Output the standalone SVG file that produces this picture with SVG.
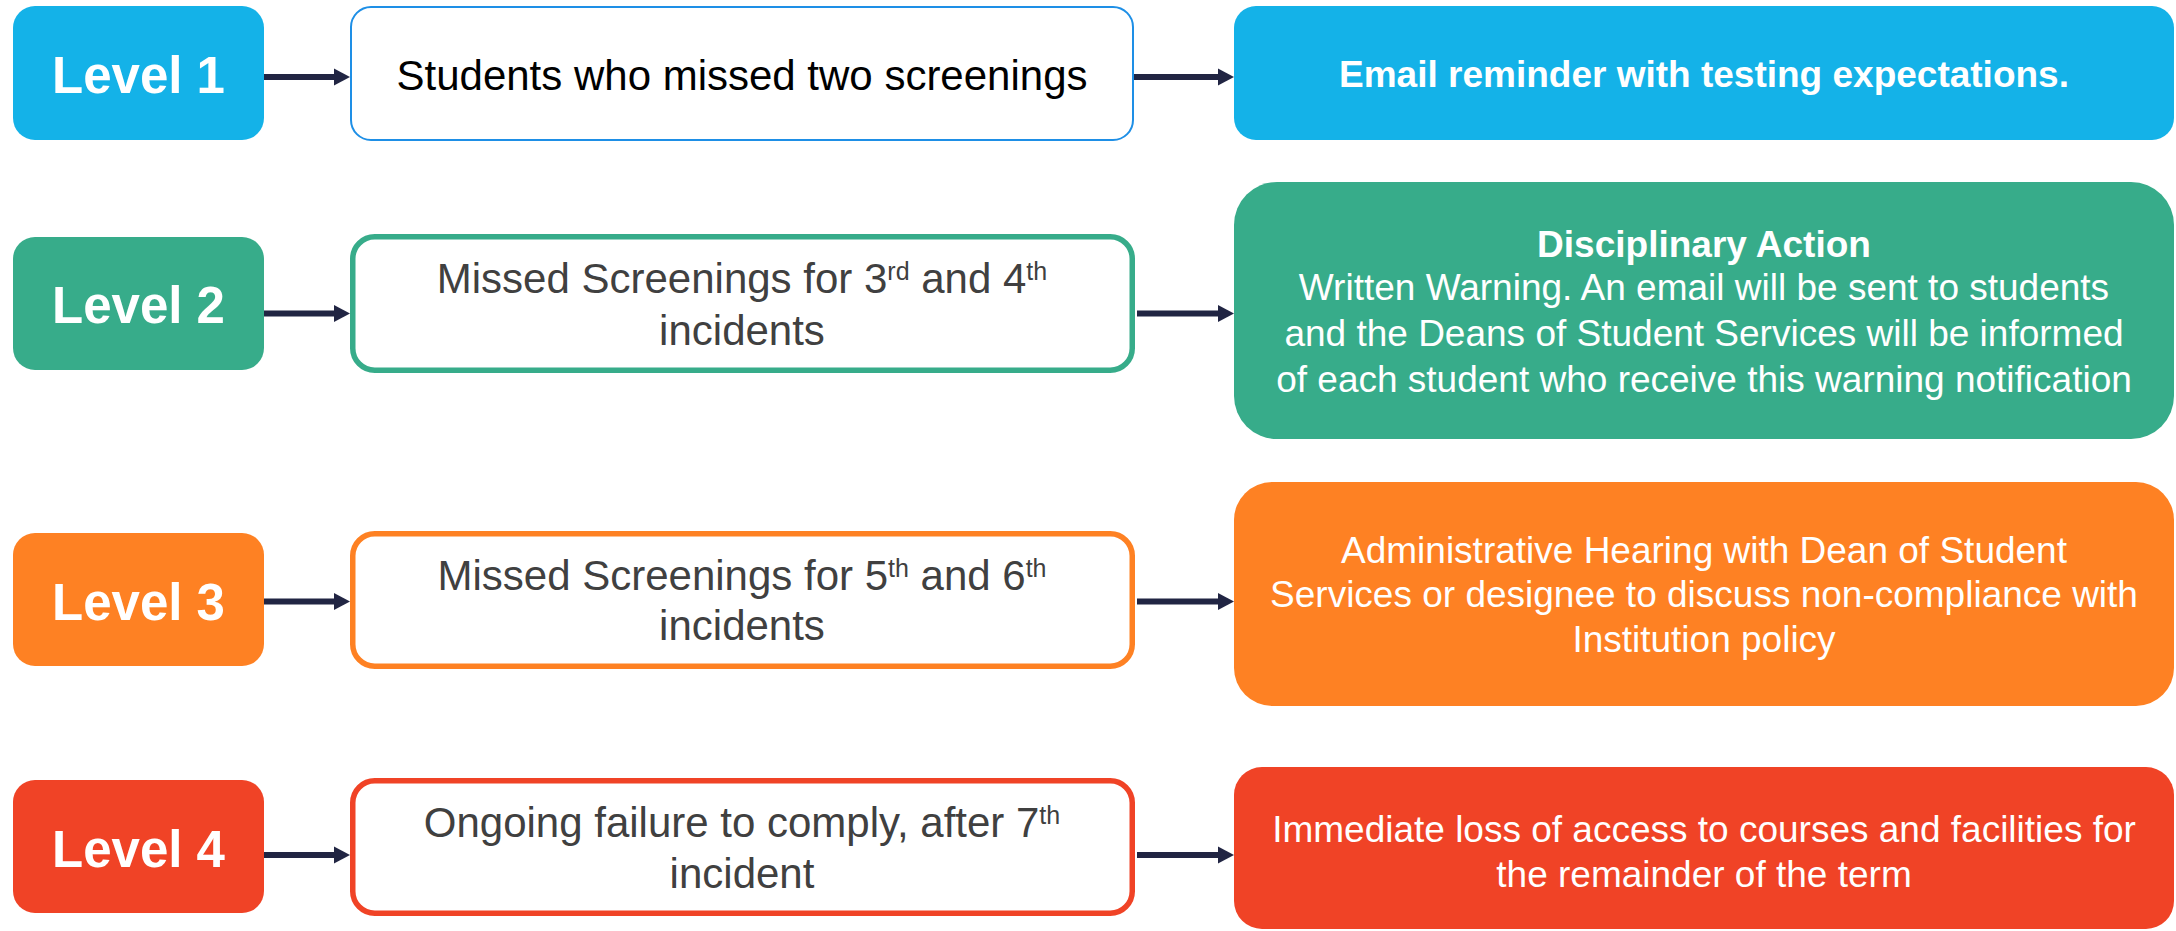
<svg xmlns="http://www.w3.org/2000/svg" width="2176" height="931" viewBox="0 0 2176 931">
  <defs>
    <style>
      text { font-family: "Liberation Sans", Arial, sans-serif; }
      .lvl { font-size: 51px; font-weight: bold; fill: #ffffff; text-anchor: middle; }
      .cond { font-size: 42px; fill: #404040; text-anchor: middle; }
      .act { font-size: 37px; fill: #ffffff; text-anchor: middle; }
      .b { font-weight: bold; }
      .sup { font-size: 25px; }
      .conn { stroke: #212543; stroke-width: 6; fill: none; marker-end: url(#head); }
      .box { fill: #ffffff; }
    </style>
    <marker id="head" markerUnits="userSpaceOnUse" markerWidth="16" markerHeight="17" refX="6" refY="8.5" orient="auto" overflow="visible">
      <path d="M0,0 L16,8.5 L0,17 Z" fill="#212543"/>
    </marker>
  </defs>

  <rect width="2176" height="931" fill="#ffffff"/>

  <!-- Connectors -->
  <g id="connectors">
    <line class="conn" x1="264" y1="77" x2="340" y2="77"/>
    <line class="conn" x1="1134" y1="77" x2="1224" y2="77"/>
    <line class="conn" x1="264" y1="313.5" x2="340" y2="313.5"/>
    <line class="conn" x1="1137" y1="313.5" x2="1224" y2="313.5"/>
    <line class="conn" x1="264" y1="601.5" x2="340" y2="601.5"/>
    <line class="conn" x1="1137" y1="601.5" x2="1224" y2="601.5"/>
    <line class="conn" x1="264" y1="855" x2="340" y2="855"/>
    <line class="conn" x1="1137" y1="855" x2="1224" y2="855"/>
  </g>

  <!-- Level 1 row -->
  <g id="level1">
    <rect x="13" y="6" width="251" height="134" rx="22" fill="#14b2e8"/>
    <text class="lvl" x="138.5" y="93">Level 1</text>
  </g>
  <g id="condition1">
    <rect class="box" x="351" y="7" width="782" height="133" rx="20" stroke="#1e8fe6" stroke-width="2"/>
    <text class="cond" x="742" y="90" fill="#000000" style="fill:#000000">Students who missed two screenings</text>
  </g>
  <g id="action1">
    <rect x="1234" y="6" width="940" height="134" rx="22" fill="#14b2e8"/>
    <text class="act b" x="1704" y="87">Email reminder with testing expectations.</text>
  </g>

  <!-- Level 2 row -->
  <g id="level2">
    <rect x="13" y="237" width="251" height="133" rx="22" fill="#37ac8a"/>
    <text class="lvl" x="138.5" y="323">Level 2</text>
  </g>
  <g id="condition2">
    <rect class="box" x="352.75" y="236.75" width="779.5" height="133.5" rx="22" stroke="#37ac8a" stroke-width="5.5"/>
    <text class="cond" x="742" y="293">Missed Screenings for 3<tspan class="sup" dy="-13">rd</tspan><tspan dy="13"> and 4</tspan><tspan class="sup" dy="-13">th</tspan></text>
    <text class="cond" x="742" y="345">incidents</text>
  </g>
  <g id="action2">
    <rect x="1234" y="182" width="940" height="257" rx="43" fill="#37ac8a"/>
    <text class="act b" x="1704" y="257">Disciplinary Action</text>
    <text class="act" x="1704" y="300">Written Warning. An email will be sent to students</text>
    <text class="act" x="1704" y="346">and the Deans of Student Services will be informed</text>
    <text class="act" x="1704" y="392">of each student who receive this warning notification</text>
  </g>

  <!-- Level 3 row -->
  <g id="level3">
    <rect x="13" y="533" width="251" height="133" rx="22" fill="#fe8123"/>
    <text class="lvl" x="138.5" y="620">Level 3</text>
  </g>
  <g id="condition3">
    <rect class="box" x="352.75" y="533.75" width="779.5" height="132.5" rx="22" stroke="#fe8123" stroke-width="5.5"/>
    <text class="cond" x="742" y="590">Missed Screenings for 5<tspan class="sup" dy="-13">th</tspan><tspan dy="13"> and 6</tspan><tspan class="sup" dy="-13">th</tspan></text>
    <text class="cond" x="742" y="640">incidents</text>
  </g>
  <g id="action3">
    <rect x="1234" y="482" width="940" height="224" rx="38" fill="#fe8123"/>
    <text class="act" x="1704" y="563">Administrative Hearing with Dean of Student</text>
    <text class="act" x="1704" y="607">Services or designee to discuss non-compliance with</text>
    <text class="act" x="1704" y="652">Institution policy</text>
  </g>

  <!-- Level 4 row -->
  <g id="level4">
    <rect x="13" y="780" width="251" height="133" rx="22" fill="#f04326"/>
    <text class="lvl" x="138.5" y="867">Level 4</text>
  </g>
  <g id="condition4">
    <rect class="box" x="352.75" y="780.75" width="779.5" height="132.5" rx="22" stroke="#f04326" stroke-width="5.5"/>
    <text class="cond" x="742" y="837">Ongoing failure to comply, after 7<tspan class="sup" dy="-13">th</tspan></text>
    <text class="cond" x="742" y="888">incident</text>
  </g>
  <g id="action4">
    <rect x="1234" y="767" width="940" height="162" rx="28" fill="#f04326"/>
    <text class="act" x="1704" y="842">Immediate loss of access to courses and facilities for</text>
    <text class="act" x="1704" y="887">the remainder of the term</text>
  </g>
</svg>
